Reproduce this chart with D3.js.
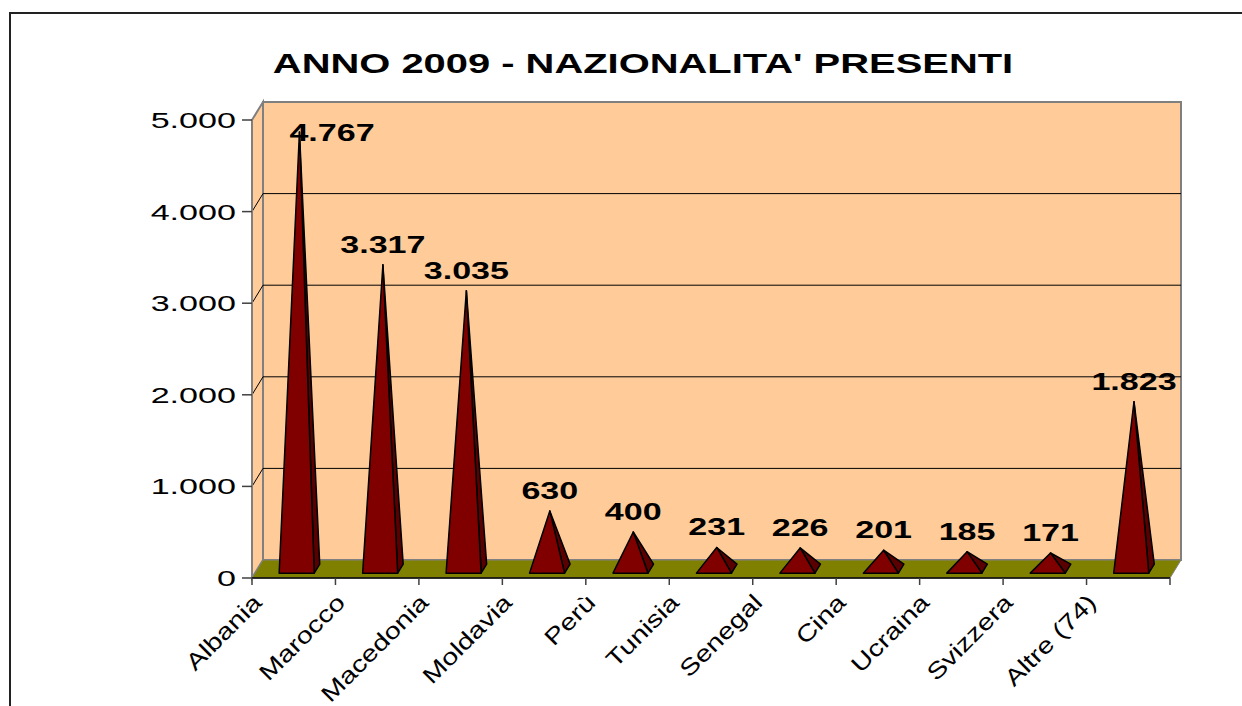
<!DOCTYPE html>
<html>
<head>
<meta charset="utf-8">
<script src="https://cdn.jsdelivr.net/npm/d3@7"></script>
<style>
  html, body { margin: 0; padding: 0; background: #fff; }
  text { font-family: "Liberation Sans", Arial, sans-serif; }
</style>
</head>
<body>
<div id="app"></div>
<script>
const chartTitle = "ANNO 2009 - NAZIONALITA' PRESENTI";
const categories = ["Albania", "Marocco", "Macedonia", "Moldavia", "Perù", "Tunisia",
    "Senegal", "Cina", "Ucraina", "Svizzera", "Altre (74)"];
const presenti = [4767, 3317, 3035, 630, 400, 231, 226, 201, 185, 171, 1823];
const yTicks = [0, 1000, 2000, 3000, 4000, 5000];

function plotChart() {
    const svgWidth = 1242;
    const svgHeight = 706;
    const plot = { left: 252, right: 1170, top: 120, bottom: 578 };
    // oblique offset of the 3D depth (front -> back wall)
    const depth = { dx: 11, dy: -18 };

    const fmt = d3.formatLocale({ decimal: ",", thousands: ".", grouping: [3], currency: ["", ""] }).format(",d");

    const svg = d3.select("#app").append("svg")
        .attr("width", svgWidth)
        .attr("height", svgHeight);

    // chart area border (runs off the picture on the right and bottom)
    svg.append("rect")
        .attr("x", 10).attr("y", 13)
        .attr("width", 1267).attr("height", 760)
        .attr("fill", "#fff")
        .attr("stroke", "#222").attr("stroke-width", 2);

    // the original fonts are wider than Arial: stretch along the text direction
    function stretchText(sel, k) {
        sel.each(function() {
            const len = this.getComputedTextLength();
            d3.select(this)
                .attr("textLength", len * k)
                .attr("lengthAdjust", "spacingAndGlyphs");
        });
    }

    svg.append("text")
        .attr("x", 643).attr("y", 73)
        .attr("text-anchor", "middle")
        .attr("font-size", 28)
        .attr("font-weight", "bold")
        .text(chartTitle)
        .call(stretchText, 1.425);

    const x = d3.scaleBand()
        .domain(categories)
        .range([plot.left, plot.right]);

    const y = d3.scaleLinear()
        .domain([0, d3.max(yTicks)])
        .range([plot.bottom, plot.top]);

    function proj(px, v, d) {
        return [px + d * depth.dx, y(v) + d * depth.dy];
    }
    const line = d3.line();
    const x0 = plot.left, x1 = plot.right, vTop = d3.max(yTicks);

    // side wall
    svg.append("path")
        .attr("d", line([proj(x0, 0, 0), proj(x0, 0, 1), proj(x0, vTop, 1), proj(x0, vTop, 0)]) + "Z")
        .attr("fill", "#FFCC99")
        .attr("stroke", "#808080").attr("stroke-width", 2);

    // back wall
    svg.append("path")
        .attr("d", line([proj(x0, 0, 1), proj(x1, 0, 1), proj(x1, vTop, 1), proj(x0, vTop, 1)]) + "Z")
        .attr("fill", "#FFCC99")
        .attr("stroke", "#808080").attr("stroke-width", 2);

    // gridlines
    const inner = yTicks.filter(t => t > 0 && t < vTop);
    svg.selectAll(".grid")
        .data(inner)
        .enter()
        .append("path")
        .classed("grid", true)
        .attr("d", t => line([proj(x0, t, 0), proj(x0, t, 1), proj(x1, t, 1)]))
        .attr("fill", "none")
        .attr("stroke", "#000").attr("stroke-width", 1);

    // floor
    svg.append("path")
        .attr("d", line([proj(x0, 0, 0), proj(x1, 0, 0), proj(x1, 0, 1), proj(x0, 0, 1)]) + "Z")
        .attr("fill", "#808000")
        .attr("stroke", "#808080").attr("stroke-width", 1);

    // axes
    svg.append("line")
        .attr("x1", x0).attr("x2", x0)
        .attr("y1", y(0)).attr("y2", y(vTop))
        .attr("stroke", "#808080").attr("stroke-width", 2);
    svg.append("line")
        .attr("x1", x0).attr("x2", x1)
        .attr("y1", y(0)).attr("y2", y(0))
        .attr("stroke", "#000").attr("stroke-width", 1.5);

    svg.selectAll(".ytick")
        .data(yTicks)
        .enter()
        .append("line")
        .classed("ytick", true)
        .attr("x1", x0 - 10).attr("x2", x0)
        .attr("y1", d => y(d)).attr("y2", d => y(d))
        .attr("stroke", "#404040").attr("stroke-width", 1.5);

    svg.selectAll(".ylabel")
        .data(yTicks)
        .enter()
        .append("text")
        .classed("ylabel", true)
        .attr("x", x0 - 16)
        .attr("y", d => y(d) + 8)
        .attr("text-anchor", "end")
        .attr("font-size", 22)
        .text(d => fmt(d))
        .call(stretchText, 1.55);

    const tickPos = categories.map(c => x(c)).concat([x1]);
    svg.selectAll(".xtick")
        .data(tickPos)
        .enter()
        .append("line")
        .classed("xtick", true)
        .attr("x1", d => d).attr("x2", d => d)
        .attr("y1", y(0)).attr("y2", y(0) + 7)
        .attr("stroke", "#404040").attr("stroke-width", 1.5);

    svg.selectAll(".xlabel")
        .data(categories)
        .enter()
        .append("text")
        .classed("xlabel", true)
        .attr("transform", d => "translate(" + (x(d) + 11) + "," + (y(0) + 26) + ") rotate(-45)")
        .attr("text-anchor", "end")
        .attr("font-size", 23)
        .text(d => d)
        .call(stretchText, 1.25);

    // pyramids
    const hw = x.bandwidth() * 0.21;
    const d0 = 0.27, d1 = 0.77, dm = 0.52;
    const pyr = svg.selectAll(".pyramid")
        .data(categories.map((c, i) => ({ cat: c, value: presenti[i] })))
        .enter()
        .append("g")
        .classed("pyramid", true);

    pyr.append("path")
        .attr("d", d => {
            const c = x(d.cat) + x.bandwidth() / 2;
            return line([proj(c + hw, 0, d0), proj(c + hw, 0, d1), proj(c, d.value, dm)]) + "Z";
        })
        .attr("fill", "#5a0000")
        .attr("stroke", "#000").attr("stroke-width", 1.5)
        .attr("stroke-linejoin", "round");

    pyr.append("path")
        .attr("d", d => {
            const c = x(d.cat) + x.bandwidth() / 2;
            return line([proj(c - hw, 0, d0), proj(c + hw, 0, d0), proj(c, d.value, dm)]) + "Z";
        })
        .attr("fill", "#800000")
        .attr("stroke", "#000").attr("stroke-width", 1.5)
        .attr("stroke-linejoin", "round");

    // data labels
    const labelMin = y(vTop) + depth.dy + 39;
    pyr.append("text")
        .each(function(d) {
            const c = x(d.cat) + x.bandwidth() / 2;
            const apex = proj(c, d.value, dm);
            let ly = apex[1] - 12;
            let lx = apex[0];
            let anchor = "middle";
            if (ly < labelMin) {
                ly = labelMin;
                lx = apex[0] - 10;
                anchor = "start";
            }
            d3.select(this)
                .attr("x", lx).attr("y", ly)
                .attr("text-anchor", anchor);
        })
        .attr("font-size", 23)
        .attr("font-weight", "bold")
        .text(d => fmt(d.value))
        .call(stretchText, 1.48);
}

plotChart();
</script>
</body>
</html>
